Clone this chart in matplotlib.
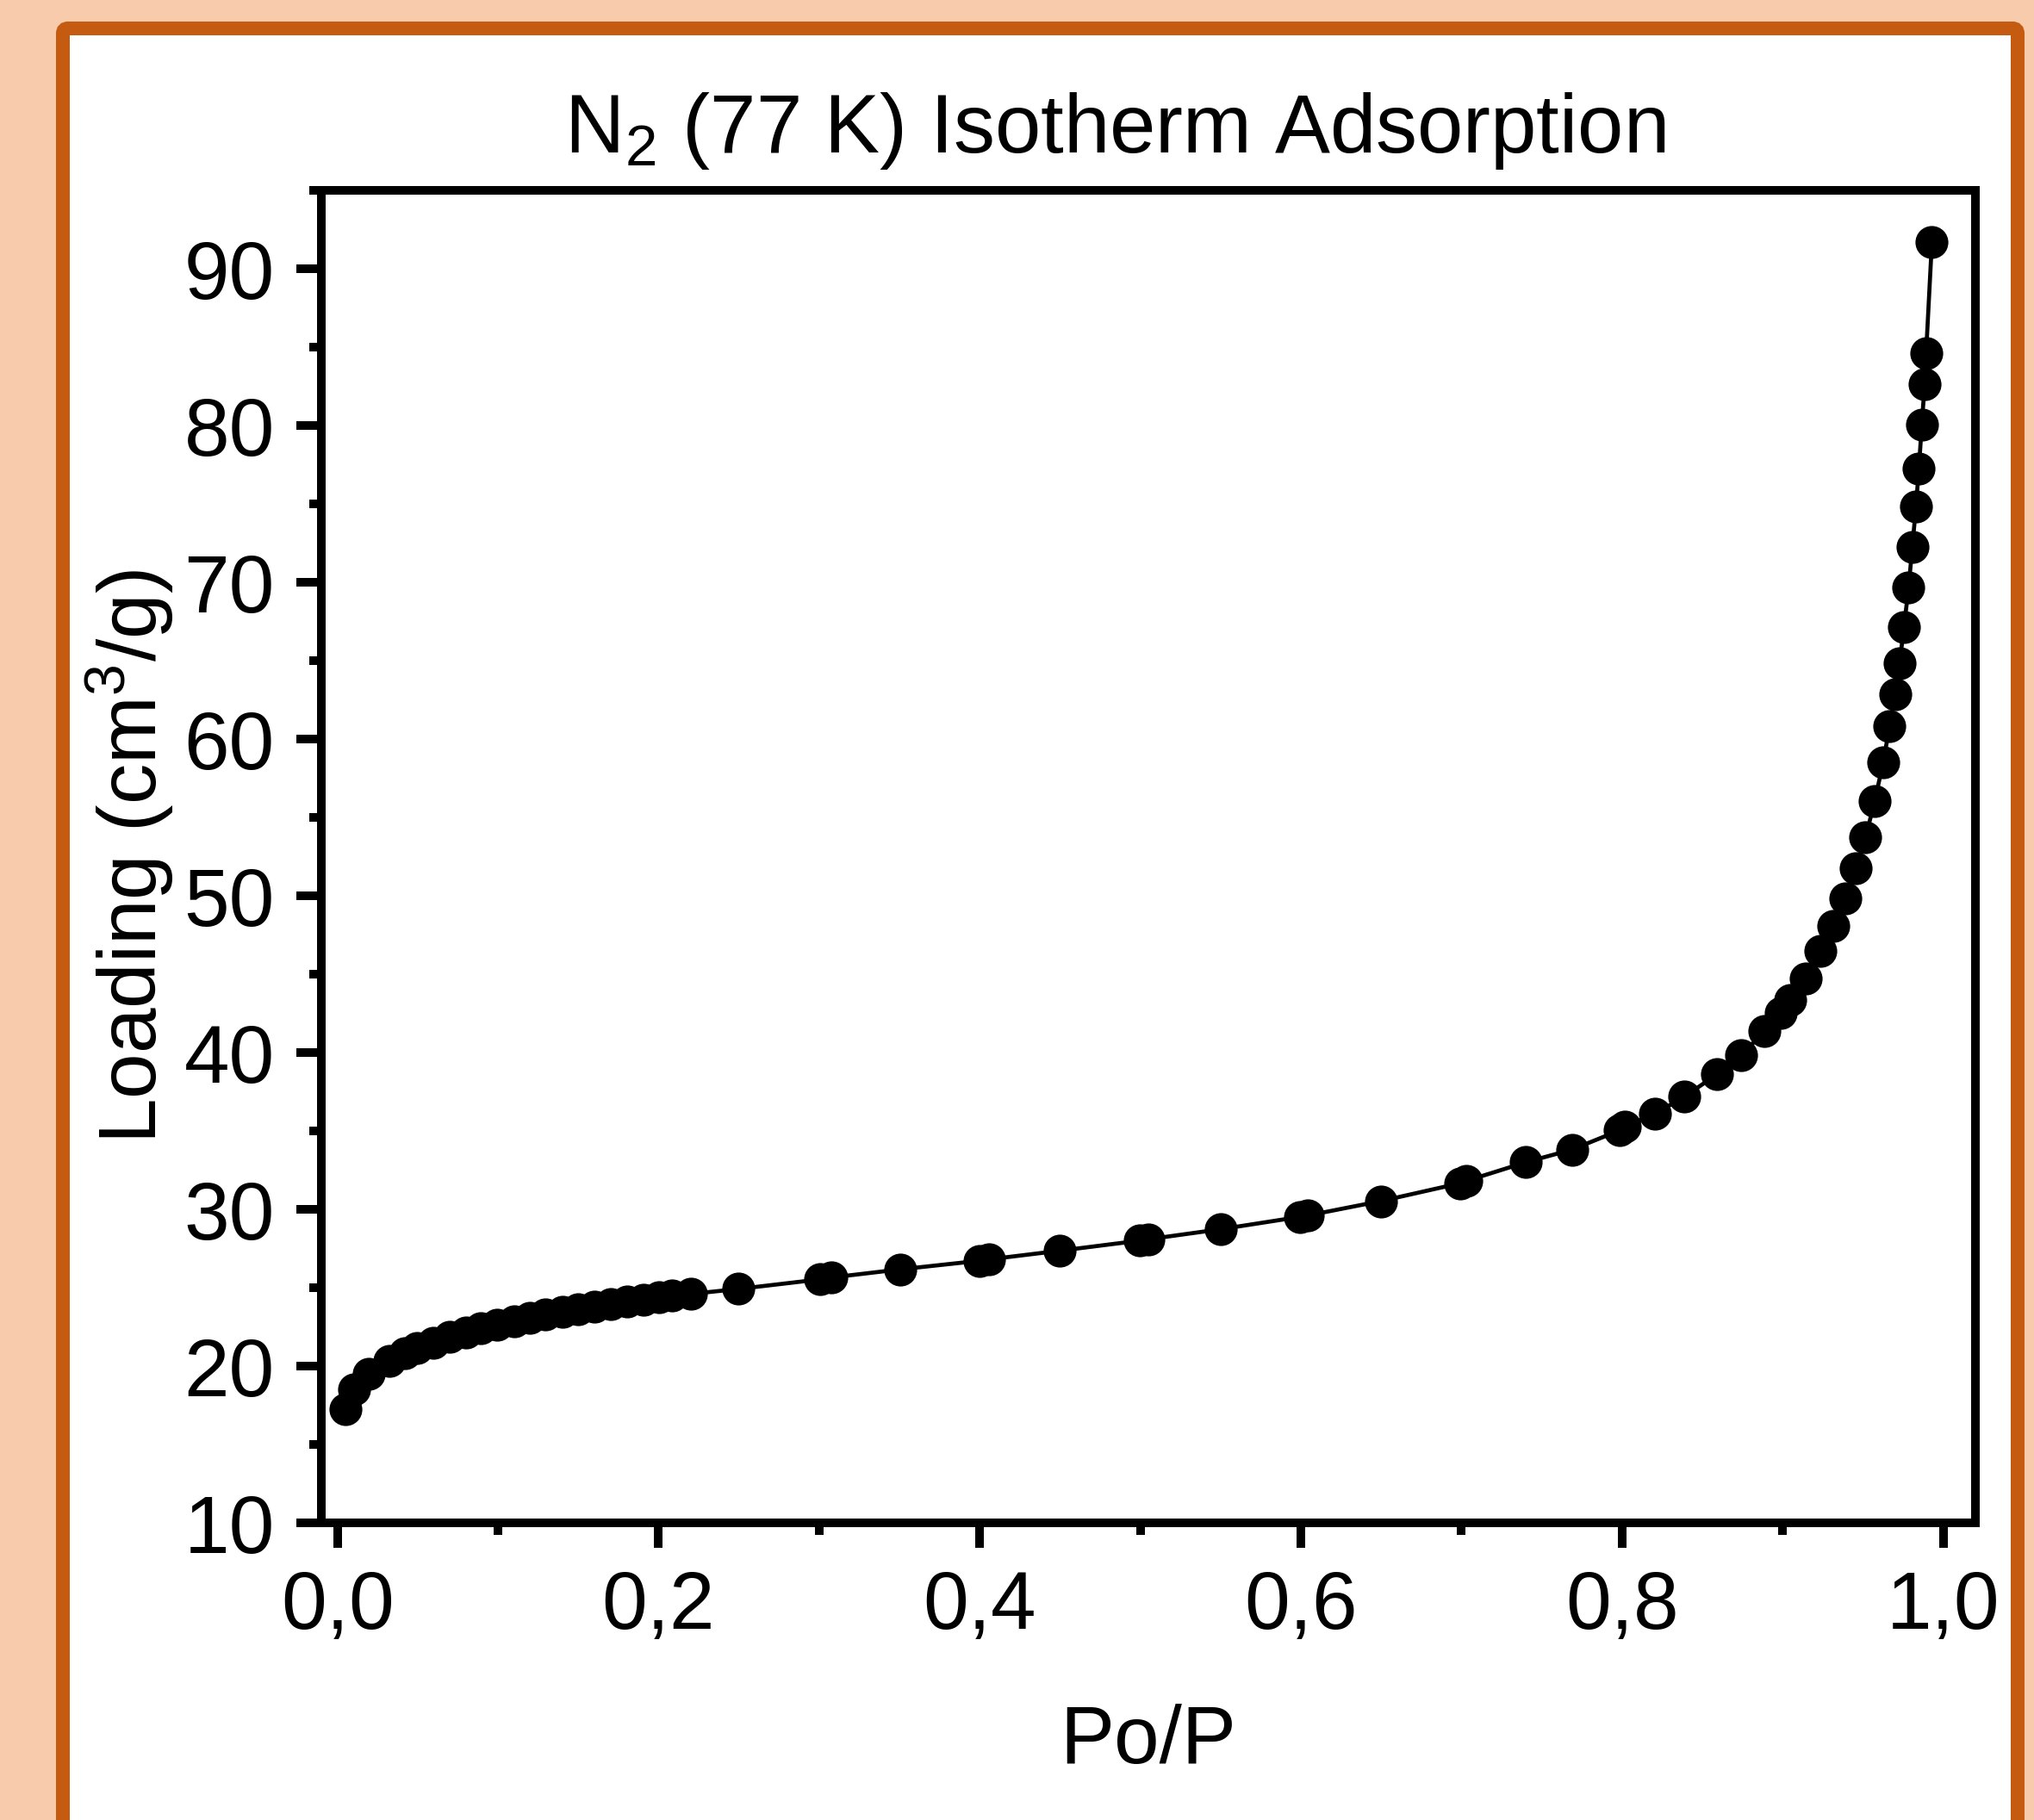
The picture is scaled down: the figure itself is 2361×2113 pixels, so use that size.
import matplotlib
matplotlib.use("Agg")
import matplotlib.pyplot as plt
from matplotlib.patches import FancyBboxPatch
from matplotlib.transforms import IdentityTransform
from matplotlib.ticker import MultipleLocator, FuncFormatter

# ---- data ----
rel_pressure = [0.005, 0.0103, 0.0197, 0.0323, 0.0421, 0.0496, 0.060, 0.0698, 0.080, 0.0895,
                0.0993, 0.110, 0.120, 0.1297, 0.1404, 0.150, 0.160, 0.170, 0.1806, 0.1905,
                0.2003, 0.2084, 0.220, 0.2498, 0.3005, 0.3076, 0.3505, 0.400, 0.406, 0.450,
                0.4994, 0.505, 0.550, 0.5995, 0.6044, 0.6496, 0.699, 0.7027, 0.740, 0.7688,
                0.7985, 0.8015, 0.8207, 0.8386, 0.859, 0.8743, 0.8886, 0.8985, 0.9047, 0.9142,
                0.9235, 0.9315, 0.9389, 0.9457, 0.9516, 0.9573, 0.9625, 0.9666, 0.970, 0.9728,
                0.9755, 0.9784, 0.9807, 0.983, 0.9848, 0.9866, 0.9884, 0.9893, 0.9929]
loading = [17.24, 18.49, 19.53, 20.32, 20.83, 21.14, 21.5, 21.87, 22.14, 22.42,
           22.66, 22.88, 23.1, 23.28, 23.46, 23.65, 23.79, 23.97, 24.12, 24.25,
           24.37, 24.49, 24.6, 24.92, 25.53, 25.65, 26.17, 26.72, 26.81, 27.36,
           28.0, 28.09, 28.73, 29.52, 29.61, 30.52, 31.66, 31.8, 33.0, 33.81,
           35.04, 35.27, 36.1, 37.18, 38.6, 39.85, 41.35, 42.54, 43.36, 44.73,
           46.5, 48.1, 49.86, 51.78, 53.73, 56.04, 58.49, 60.82, 62.87, 64.85,
           67.12, 69.67, 72.25, 74.84, 77.26, 80.04, 82.65, 84.63, 91.69]

title = r"N$_\mathregular{2}$ (77 K) Isotherm Adsorption"
x_label = "Po/P"
y_label = r"Loading (cm$^\mathregular{3}$/g)"

plt.rcParams['font.family'] = ['Liberation Sans', 'DejaVu Sans']

W, H, DPI = 2361, 2113, 100
fig = plt.figure(figsize=(W / DPI, H / DPI), dpi=DPI)
fig.patch.set_facecolor('#F8CBAD')

# card with orange border
card = FancyBboxPatch((73, -200), 2342 - 73, 2080 + 200,
                      boxstyle="round,pad=0,rounding_size=6",
                      transform=IdentityTransform(), facecolor='white',
                      edgecolor='#C55A11', linewidth=16 * 72 / DPI, zorder=-5)
fig.patches.append(card)

ax = fig.add_axes([373 / W, 1 - 1768 / H, (2293 - 373) / W, (1768 - 221) / H])
ax.set_facecolor('white')

ax.plot(rel_pressure, loading, color='black', linewidth=3.4,
        marker='o', markersize=27.5, markeredgewidth=0, markerfacecolor='black',
        clip_on=False, zorder=3)

ax.set_xlim(-0.01, 1.02)
ax.set_ylim(10, 95)

ax.xaxis.set_major_locator(MultipleLocator(0.2))
ax.xaxis.set_minor_locator(MultipleLocator(0.1))
ax.yaxis.set_major_locator(MultipleLocator(10))
ax.yaxis.set_minor_locator(MultipleLocator(5))
ax.xaxis.set_major_formatter(FuncFormatter(lambda v, p: f"{v:.1f}".replace('.', ',')))
ax.yaxis.set_major_formatter(FuncFormatter(lambda v, p: f"{v:.0f}"))

for sp in ax.spines.values():
    sp.set_linewidth(7.2)
    sp.set_capstyle('projecting')

ax.tick_params(axis='both', which='major', direction='out', length=21, width=7.2,
               labelsize=68, pad=18, top=False, right=False)
ax.tick_params(axis='both', which='minor', direction='out', length=10, width=7.2,
               top=False, right=False)

ax.set_xlabel(x_label, fontsize=68, labelpad=48)
ax.set_ylabel(y_label, fontsize=68, labelpad=6)

fig.text(1294 / W, 1 - 177 / H, title, fontsize=69, ha='center', va='baseline')

fig.savefig("out.png", dpi=DPI, facecolor=fig.get_facecolor())
